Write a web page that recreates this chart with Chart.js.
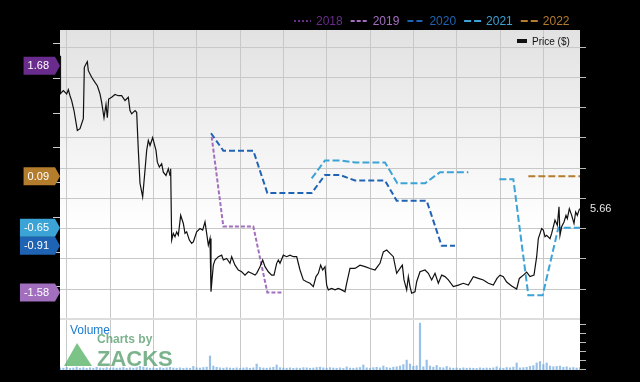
<!DOCTYPE html>
<html>
<head>
<meta charset="utf-8">
<script src="https://cdn.jsdelivr.net/npm/chart.js@4.4.0/dist/chart.umd.min.js"></script>
<style>
  html, body { margin: 0; padding: 0; background: #000; }
  #wrap { width: 640px; height: 382px; }
</style>
</head>
<body>
<div id="wrap"><canvas id="chart" width="640" height="382"></canvas></div>
<script>
// x values are weeks from the start of the chart (about 3 years)
const quarterTicks = [2, 15, 28, 41, 54, 67, 80, 93, 106, 119, 132, 145];
const priceTicks = [2, 3, 4, 5, 6, 7, 8, 9, 10, 11];
const epsTicks = [-1.5, -1, -0.5, 0, 0.5, 1, 1.5, 2];
const volumeTicks = [0, 0.5, 1, 1.5, 2, 2.5];

const priceWeeks = [0,0.15,0.5,1,2,2.5,3,3.5,4.2,5.2,6,7,7.3,7.8,8.2,8.5,9.5,10.5,11.2,12,
  12.5,13.2,13.8,14.2,14.6,15.5,16.5,17.5,18.5,19.5,20.5,21,21.5,22.5,23,23.5,24,24.8,25.5,26,
  26.5,27,27.8,28.8,29.2,29.8,30.5,31,31.8,32.5,33,33.2,33.5,34,34.5,35,35.5,36.2,37,37.5,
  38,38.8,39.5,40,41,42,42.8,43.5,44,44.5,45,45.3,45.6,46,46.5,47.5,48.5,49,50,51,
  51.5,52.5,53.5,54.5,55.5,56.5,57.5,58.5,59,60,60.8,61.5,62.5,63.5,64.2,65,65.5,66,67,68,
  69,70,71,72,73,74,75,76,76.8,77.5,78.2,78.8,79.5,80,80.5,81.5,82.5,83.5,84.5,85.5,
  86,87,88.5,90,91.5,93,94.5,96,97,98,99,100,101,102,102.7,103.2,104,104.5,105,105.5,
  106.5,107,108,109.5,110.5,111.5,112.5,113.5,114.5,115.5,116.5,118,119.5,121,122.5,124,125.5,127,128.5,130,
  131.1,132,133,134,135.5,137,137.8,139,140,141,142.2,143,143.5,144.5,145,145.5,146,147,147.5,148.5,
  149.2,149.7,150,150.5,151.2,151.8,152.2,152.8,153.5,154.2,154.7,155.2,155.8,156];
const priceValues = [10.72,9.47,9.51,9.57,9.46,9.60,9.40,9.24,8.91,8.25,8.31,8.64,10.34,10.45,10.53,10.23,10.01,9.84,9.73,9.46,
  9.18,8.67,9.11,8.67,9.29,9.35,9.44,9.40,9.40,9.24,9.35,8.91,8.80,8.91,8.85,7.59,6.50,6.05,6.93,7.59,
  7.92,7.75,8.01,7.59,7.20,7.04,7.15,6.87,6.76,6.98,6.76,6.98,4.62,4.84,4.73,4.89,4.78,5.44,5.17,4.84,
  4.89,4.62,4.51,4.56,4.89,5.00,4.95,5.22,4.84,4.45,4.67,2.91,3.30,3.79,3.96,4.07,4.12,3.96,4.01,3.85,
  4.07,3.79,3.63,3.57,3.46,3.57,3.52,3.46,3.52,3.74,3.96,3.74,3.57,3.46,3.46,3.85,3.96,3.85,4.12,4.07,
  4.12,4.07,4.07,3.63,3.30,3.24,3.19,3.08,3.41,3.52,3.79,3.63,3.74,3.13,2.97,3.02,2.97,3.02,2.97,2.91,
  3.19,3.68,3.68,3.79,3.74,3.68,3.63,3.85,4.23,4.29,4.18,4.07,3.52,3.68,3.79,3.30,2.97,3.41,3.08,2.86,
  2.91,3.24,3.57,3.63,3.52,3.30,3.52,3.19,3.46,3.41,3.30,3.08,3.13,3.19,3.13,3.41,3.35,3.30,3.19,3.13,
  3.35,3.46,3.41,3.23,3.10,3.00,3.35,3.46,3.56,3.41,3.46,4.07,4.67,5.00,4.95,4.73,4.78,4.67,4.84,5.28,
  5.11,5.72,4.78,5.06,5.22,5.44,5.33,5.66,5.44,5.17,5.55,5.44,5.64,5.66];

// consensus EPS estimates per fiscal year
const eps2018Weeks = [0];
const eps2018Values = [1.68];
const eps2019Weeks = [45.5, 49, 58, 62.2, 66.5];
const eps2019Values = [0.66, -0.63, -0.63, -1.58, -1.58];
const eps2020Weeks = [45.3, 49, 58, 62.2, 75.5, 79.5, 84, 88.5, 97.5, 101, 110, 114.5, 118.5];
const eps2020Values = [0.71, 0.46, 0.46, -0.15, -0.15, 0.11, 0.11, 0.03, 0.03, -0.26, -0.26, -0.91, -0.91];
const eps2021Weeks = [75.5, 79.5, 84, 88.5, 97.5, 101.2, 109.5, 114, 122.5, 127, 131.8, 136, 140.5, 144.8, 149.5, 156];
const eps2021Values = [0.06, 0.32, 0.32, 0.29, 0.29, -0.01, -0.01, 0.15, 0.15, null, 0.05, 0.05, -1.62, -1.62, -0.65, -0.65];
const eps2022Weeks = [140.5, 156];
const eps2022Values = [0.09, 0.09];

// weekly volume (millions)
const volumeValues = [
  0.12,0.10,0.14,0.09,0.11,0.16,0.10,0.13,0.09,0.12,0.10,0.15,0.11,
  0.10,0.13,0.09,0.12,0.10,0.11,0.14,0.09,0.12,0.10,0.13,0.20,0.16,
  0.12,0.10,0.11,0.09,0.13,0.10,0.12,0.15,0.11,0.10,0.12,0.09,0.11,
  0.10,0.20,0.12,0.11,0.14,0.16,0.78,0.22,0.15,0.12,0.10,0.13,0.11,
  0.10,0.12,0.09,0.11,0.13,0.10,0.12,0.33,0.14,0.11,0.10,0.12,0.15,
  0.28,0.13,0.11,0.10,0.12,0.09,0.11,0.10,0.13,0.12,0.10,0.11,0.14,
  0.16,0.12,0.10,0.13,0.11,0.10,0.12,0.09,0.17,0.11,0.10,0.12,0.14,
  0.28,0.12,0.10,0.13,0.15,0.12,0.22,0.14,0.11,0.16,0.18,0.22,0.30,
  0.55,0.33,0.20,0.24,2.60,0.18,0.55,0.22,0.16,0.25,0.14,0.12,0.20,
  0.12,0.10,0.11,0.09,0.12,0.10,0.11,0.10,0.09,0.12,0.10,0.11,0.10,
  0.12,0.18,0.11,0.10,0.14,0.12,0.16,0.39,0.12,0.13,0.15,0.20,0.24,
  0.39,0.47,0.30,0.39,0.22,0.18,0.20,0.22,0.15,0.18,0.12,0.14,0.11,
  0.13];

const FONT = '"Liberation Sans", Arial, sans-serif';

function pairs(xs, ys) {
  return xs.map((x, i) => ({ x: x, y: ys[i] }));
}

function epsSet(label, weeks, values, color, dash) {
  return {
    type: 'line', label: label, data: pairs(weeks, values), yAxisID: 'eps',
    borderColor: color, borderWidth: 2, borderDash: dash,
    pointRadius: 0, tension: 0, spanGaps: false
  };
}

const zacksPlugin = {
  id: 'zacks',
  beforeDraw(chart) {
    const { ctx, chartArea: a } = chart;
    ctx.save();
    ctx.fillStyle = '#000';
    ctx.fillRect(0, 0, chart.width, chart.height);
    const g = ctx.createLinearGradient(0, a.top, 0, a.top + 200);
    g.addColorStop(0, '#e2e2e2');
    g.addColorStop(1, '#ffffff');
    ctx.fillStyle = g;
    ctx.fillRect(a.left, a.top, a.right - a.left, a.bottom - a.top);
    ctx.restore();
  },
  beforeDatasetsDraw(chart) {
    const { ctx, chartArea: a } = chart;
    ctx.save();
    // watermark
    ctx.fillStyle = 'rgba(80, 175, 95, 0.75)';
    ctx.beginPath();
    ctx.moveTo(a.left + 17, a.bottom - 27);
    ctx.lineTo(a.left + 32, a.bottom - 4);
    ctx.lineTo(a.left + 4, a.bottom - 4);
    ctx.closePath();
    ctx.fill();
    ctx.fillStyle = 'rgba(90, 160, 112, 0.8)';
    ctx.textBaseline = 'alphabetic';
    ctx.font = 'bold 12px ' + FONT;
    ctx.fillText('Charts by', a.left + 37, a.bottom - 27);
    ctx.font = 'bold 22px ' + FONT;
    ctx.fillText('ZACKS', a.left + 37, a.bottom - 4);
    ctx.fillStyle = '#1b7bd0';
    ctx.font = '12px ' + FONT;
    ctx.textBaseline = 'middle';
    ctx.fillText('Volume', a.left + 10, a.bottom - 39);
    ctx.restore();
  },
  afterDraw(chart) {
    const { ctx, chartArea: a } = chart;
    const eps = chart.scales.eps, price = chart.scales.price, vol = chart.scales.vol;
    const consensus = chart.data.datasets.filter(d => d.yAxisID === 'eps');
    ctx.save();

    // year legend at top
    ctx.font = '12px ' + FONT;
    ctx.textBaseline = 'middle';
    let lx = 294;
    const ly = 21;
    consensus.forEach(ds => {
      ctx.strokeStyle = ds.borderColor;
      ctx.lineWidth = 2;
      ctx.setLineDash(ds.borderDash);
      ctx.beginPath();
      ctx.moveTo(lx, ly);
      ctx.lineTo(lx + 17, ly);
      ctx.stroke();
      ctx.setLineDash([]);
      ctx.fillStyle = ds.borderColor;
      ctx.fillText(ds.label, lx + 22, ly + 1);
      lx += 22 + ctx.measureText(ds.label).width + 8;
    });

    // price legend inside plot
    ctx.fillStyle = '#111';
    ctx.fillRect(517, 39, 10, 4);
    ctx.font = '10px ' + FONT;
    ctx.fillText('Price ($)', 532, 42);

    // consensus tags on the left
    ctx.font = '11px ' + FONT;
    consensus.forEach(ds => {
      const pts = ds.data.filter(p => p.y !== null);
      const last = pts[pts.length - 1].y;
      const y = eps.getPixelForValue(last);
      const txt = last.toFixed(2);
      const w = ctx.measureText(txt).width;
      const x0 = a.left - 5 - w - 10;
      ctx.fillStyle = ds.borderColor;
      ctx.beginPath();
      ctx.moveTo(x0, y - 9);
      ctx.lineTo(a.left - 5, y - 9);
      ctx.lineTo(a.left, y);
      ctx.lineTo(a.left - 5, y + 9);
      ctx.lineTo(x0, y + 9);
      ctx.closePath();
      ctx.fill();
      ctx.fillStyle = '#fff';
      ctx.fillText(txt, x0 + 4, y + 0.5);
    });

    // last price on the right
    const lastPrice = priceValues[priceValues.length - 1];
    ctx.fillStyle = '#e6e6e6';
    ctx.fillText(lastPrice.toFixed(2), a.right + 10, price.getPixelForValue(lastPrice));

    // volume tick marks
    ctx.strokeStyle = '#bbbbbb';
    ctx.lineWidth = 1;
    volumeTicks.forEach(v => {
      const y = Math.round(vol.getPixelForValue(v)) - 0.5;
      ctx.beginPath();
      ctx.moveTo(a.right, y);
      ctx.lineTo(a.right + 6, y);
      ctx.stroke();
    });
    ctx.restore();
  }
};

new Chart(document.getElementById('chart'), {
  type: 'line',
  data: {
    datasets: [
      {
        type: 'line', label: 'Price ($)', data: pairs(priceWeeks, priceValues), yAxisID: 'price',
        borderColor: '#111111', borderWidth: 1.2, pointRadius: 0, tension: 0
      },
      epsSet('2018', eps2018Weeks, eps2018Values, '#6a2c8c', [2, 2]),
      epsSet('2019', eps2019Weeks, eps2019Values, '#a26fbe', [4, 2]),
      epsSet('2020', eps2020Weeks, eps2020Values, '#1f63b4', [6, 3]),
      epsSet('2021', eps2021Weeks, eps2021Values, '#3ba3d6', [7, 3]),
      epsSet('2022', eps2022Weeks, eps2022Values, '#b47d2e', [7, 3]),
      {
        type: 'bar', label: 'Volume', data: volumeValues.map((v, i) => ({ x: i, y: v })), yAxisID: 'vol',
        backgroundColor: 'rgba(110, 165, 220, 0.7)', barThickness: 1.5
      }
    ]
  },
  options: {
    responsive: false,
    animation: false,
    layout: { padding: { top: 30, left: 0, right: 0, bottom: 0 } },
    plugins: { legend: { display: false }, tooltip: { enabled: false } },
    scales: {
      x: {
        type: 'linear', min: 0, max: 156, offset: false,
        afterBuildTicks: s => { s.ticks = quarterTicks.map(v => ({ value: v })); },
        afterFit: s => { s.height = 12; },
        ticks: { display: false },
        grid: { color: '#c8c8c8', drawTicks: false, offset: false },
        border: { display: false }
      },
      eps: {
        type: 'linear', position: 'left', min: -2.696, max: 2.196,
        afterBuildTicks: s => { s.ticks = epsTicks.map(v => ({ value: v })); },
        afterFit: s => { s.width = 60; },
        ticks: { display: false },
        grid: { drawOnChartArea: false, drawTicks: true, tickLength: 7, tickColor: '#cccccc' },
        border: { display: false }
      },
      price: {
        type: 'linear', position: 'right', min: 0.318, max: 11.576,
        afterBuildTicks: s => { s.ticks = priceTicks.map(v => ({ value: v })); },
        afterFit: s => { s.width = 60; },
        ticks: { display: false },
        grid: {
          color: c => (c.tick && c.tick.value === 2 ? '#dddddd' : '#c8c8c8'),
          lineWidth: c => (c.tick && c.tick.value === 2 ? 2 : 1),
          tickColor: c => (c.tick && c.tick.value === 2 ? 'rgba(0,0,0,0)' : '#bbbbbb'),
          drawTicks: true, tickLength: 6
        },
        border: { display: false }
      },
      vol: {
        type: 'linear', position: 'right', display: false, min: 0, max: 18.89
      }
    }
  },
  plugins: [zacksPlugin]
});
</script>
</body>
</html>
